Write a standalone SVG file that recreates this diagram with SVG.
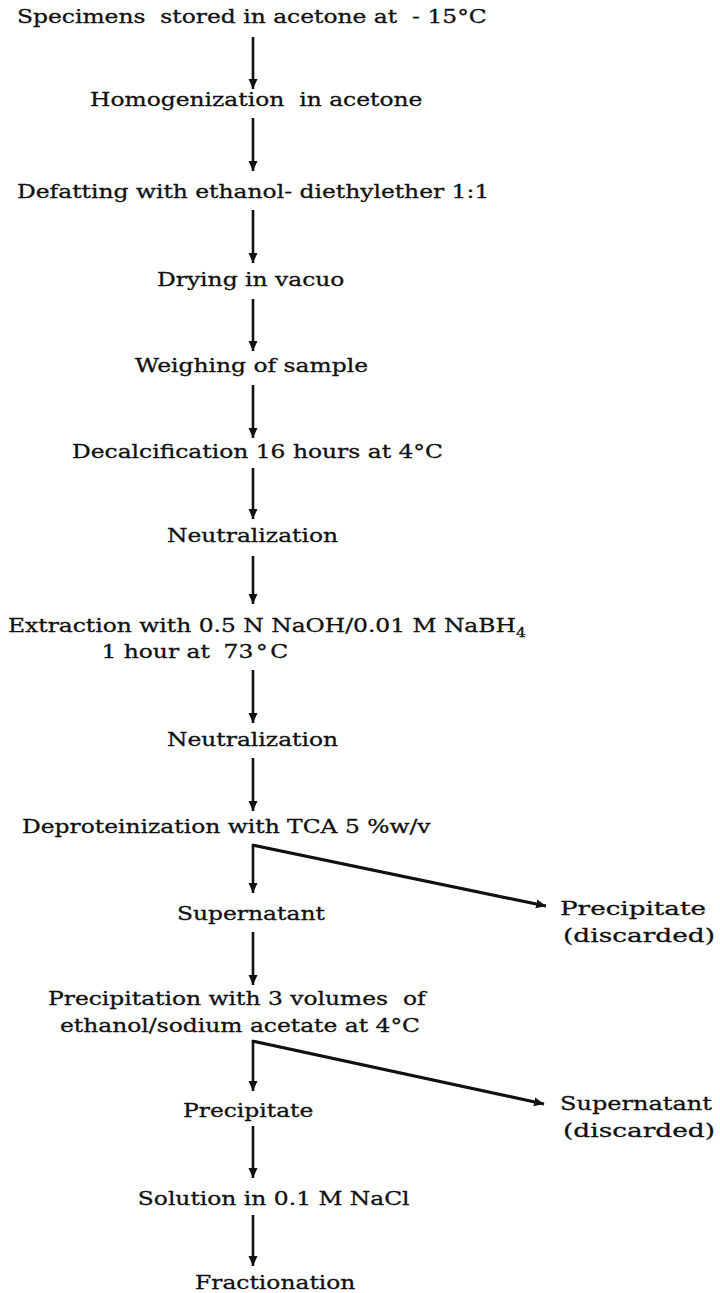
<svg xmlns="http://www.w3.org/2000/svg" width="720" height="1293" viewBox="0 0 720 1293">
<defs>
<style>
text{font-family:"DejaVu Serif","Liberation Serif",serif;font-size:18px;fill:#111;stroke:#111;stroke-width:0.3;}
.c{stroke:#111;stroke-width:2.6;fill:none;}
.d{stroke:#111;stroke-width:3.2;fill:none;}
.sub{font-size:12px;}
</style>
<marker id="ah" markerUnits="userSpaceOnUse" markerWidth="10" markerHeight="10" refX="10" refY="5" orient="auto" viewBox="0 0 10 10">
<path d="M0,0.5 L10,5 L0,9.5 z" fill="#111"/>
</marker>
</defs>
<rect width="720" height="1293" fill="#fff"/>
<g id="main-labels" transform="scale(1.3,1)">
<g id="n1"><text x="13.08" y="23" xml:space="preserve">Specimens  stored in acetone at  - 15°C</text></g>
<g id="n2"><text x="69.23" y="106" xml:space="preserve">Homogenization  in acetone</text></g>
<g id="n3"><text x="13.08" y="198">Defatting with ethanol- diethylether 1:1</text></g>
<g id="n4"><text x="120.77" y="286">Drying in vacuo</text></g>
<g id="n5"><text x="103.85" y="372">Weighing of sample</text></g>
<g id="n6"><text x="55.38" y="458">Decalcification 16 hours at 4°C</text></g>
<g id="n7"><text x="128.46" y="542">Neutralization</text></g>
<g id="n8"><text x="6.15" y="632">Extraction with 0.5 N NaOH/0.01 M NaBH<tspan class="sub" dy="5">4</tspan></text><text x="78" y="658">1 hour at <tspan x="172">73</tspan><tspan dx="2">°</tspan><tspan dx="2">C</tspan></text></g>
<g id="n9"><text x="128.46" y="746">Neutralization</text></g>
<g id="n10"><text x="16.92" y="833">Deproteinization with TCA 5 %w/v</text></g>
<g id="n11"><text x="136.15" y="920">Supernatant</text></g>
<g id="n13"><text x="36.92" y="1005" xml:space="preserve">Precipitation with 3 volumes  of</text><text x="46.15" y="1032">ethanol/sodium acetate at 4°C</text></g>
<g id="n14"><text x="140.77" y="1117">Precipitate</text></g>
<g id="n16"><text x="106" y="1205">Solution in 0.1 M NaCl</text></g>
<g id="n17"><text x="150" y="1289">Fractionation</text></g>
</g>
<g id="n12"><text x="560" y="915" textLength="146" lengthAdjust="spacingAndGlyphs">Precipitate</text><text x="563" y="942" textLength="152" lengthAdjust="spacingAndGlyphs">(discarded)</text></g>
<g id="n15"><text x="560" y="1110" textLength="152" lengthAdjust="spacingAndGlyphs">Supernatant</text><text x="563" y="1137" textLength="152" lengthAdjust="spacingAndGlyphs">(discarded)</text></g>
<g id="connectors">
<line class="c" x1="253" y1="37" x2="253" y2="89" marker-end="url(#ah)"/>
<line class="c" x1="253" y1="118" x2="253" y2="171" marker-end="url(#ah)"/>
<line class="c" x1="253" y1="210" x2="253" y2="263" marker-end="url(#ah)"/>
<line class="c" x1="253" y1="299" x2="253" y2="351" marker-end="url(#ah)"/>
<line class="c" x1="253" y1="385" x2="253" y2="438" marker-end="url(#ah)"/>
<line class="c" x1="253" y1="468" x2="253" y2="519" marker-end="url(#ah)"/>
<line class="c" x1="253" y1="556" x2="253" y2="604" marker-end="url(#ah)"/>
<line class="c" x1="253" y1="670" x2="253" y2="723" marker-end="url(#ah)"/>
<line class="c" x1="253" y1="758" x2="253" y2="811" marker-end="url(#ah)"/>
<line class="c" x1="253" y1="844" x2="253" y2="893" marker-end="url(#ah)"/>
<line class="d" x1="252" y1="845" x2="546" y2="906" marker-end="url(#ah)"/>
<line class="c" x1="253" y1="932" x2="253" y2="985" marker-end="url(#ah)"/>
<line class="c" x1="253" y1="1040" x2="253" y2="1091" marker-end="url(#ah)"/>
<line class="d" x1="252" y1="1041" x2="544" y2="1104" marker-end="url(#ah)"/>
<line class="c" x1="253" y1="1126" x2="253" y2="1178" marker-end="url(#ah)"/>
<line class="c" x1="253" y1="1215" x2="253" y2="1266" marker-end="url(#ah)"/>
</g>
</svg>
